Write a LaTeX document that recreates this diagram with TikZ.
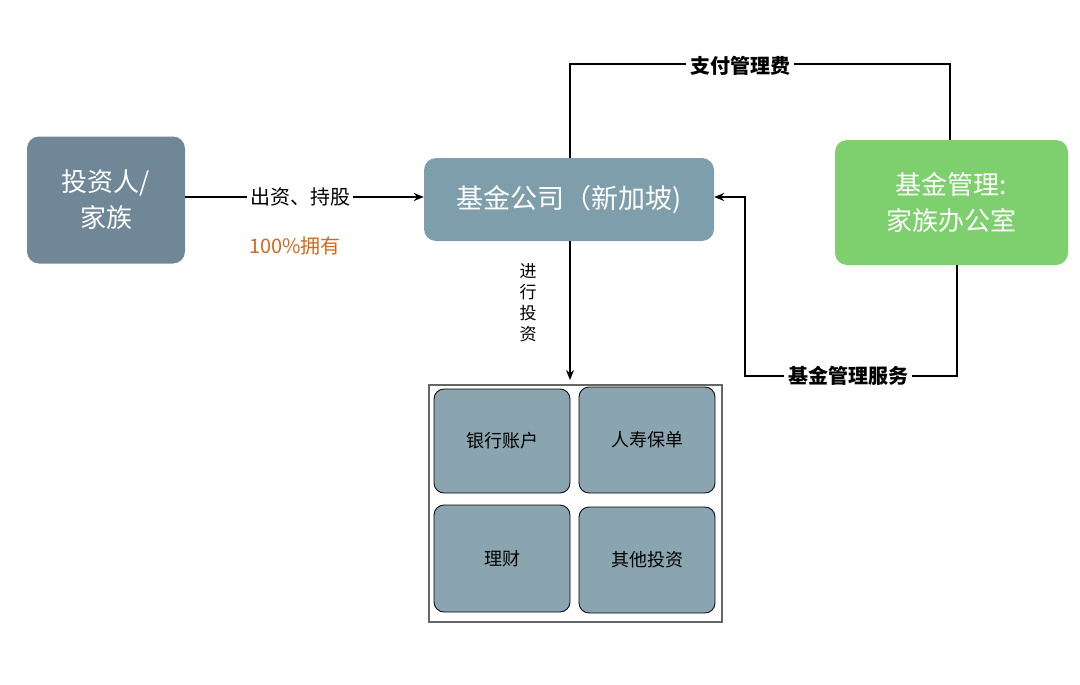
\documentclass[tikz,border=0pt]{standalone}
\usepackage{fontspec}
\setmainfont{Noto Sans CJK SC}
\usetikzlibrary{arrows.meta}
\begin{document}
\begin{tikzpicture}[x=1pt,y=-1pt,
  bigbox/.style={draw=none,rounded corners=12pt,text=white,align=center,font=\fontsize{26}{36}\selectfont},
  inner/.style={draw=black,line width=0.8pt,fill=innerc,rounded corners=10pt,font=\fontsize{18}{22}\selectfont},
  conn/.style={line width=2pt,black},
  lbl/.style={fill=white,inner sep=4pt,font=\bfseries\fontsize{20}{24}\selectfont}]
\definecolor{invc}{HTML}{6F8796}
\definecolor{fundc}{HTML}{7F9EAB}
\definecolor{foc}{HTML}{7ECF6E}
\definecolor{innerc}{HTML}{8AA5B0}
\definecolor{orangec}{HTML}{D2691E}
\useasboundingbox (0,0) rectangle (1080,685);
\node[bigbox,fill=invc,minimum width=158pt,minimum height=127pt] (inv) at (106,200) {投资人/\\家族};
\node[bigbox,fill=fundc,minimum width=290pt,minimum height=83pt,font=\fontsize{27}{32}\selectfont] (fund) at (569,199.5) {基金公司（新加坡)};
\node[bigbox,fill=foc,minimum width=233pt,minimum height=125pt] (fo) at (951.5,202.5) {基金管理:\\家族办公室};
\node[fill=white,inner sep=3pt,font=\fontsize{20}{24}\selectfont] (l1) at (300,197) {出资、持股};
\node[text=orangec,font=\fontsize{20}{24}\selectfont] (l2) at (295,246) {100\%拥有};
\draw[conn] (inv.east |- 0,197) -- (l1.west);
\draw[conn,-{Stealth[length=10pt,width=8pt]}] (l1.east) -- (fund.west |- 0,197);
\coordinate (t1) at (570,64);
\coordinate (t2) at (950,64);
\node[lbl] (l3) at (740,66) {支付管理费};
\draw[conn] (570,158) -- (t1) -- (l3.west |- t1);
\draw[conn] (l3.east |- t2) -- (t2) -- (950,140);
\coordinate (b1) at (957,376);
\coordinate (b2) at (745,376);
\coordinate (b3) at (745,197);
\node[lbl] (l4) at (848,376) {基金管理服务};
\draw[conn] (957,265) -- (b1) -- (l4.east);
\draw[conn,-{Stealth[length=10pt,width=8pt]}] (l4.west) -- (b2) -- (b3) -- (fund.east |- b3);
\node[draw=gray!80!black,line width=2pt,minimum width=293pt,minimum height=237pt] (cont) at (575.5,503.5) {};
\draw[conn,-{Stealth[length=10pt,width=8pt]}] (570,241) -- (570,380);
\node[align=center,font=\fontsize{17}{21}\selectfont] (l5) at (528,303) {进\\行\\投\\资};
\node[inner,minimum width=136pt,minimum height=104pt] (a) at (502,441) {银行账户};
\node[inner,minimum width=136pt,minimum height=106pt] (b) at (647,440) {人寿保单};
\node[inner,minimum width=136pt,minimum height=107pt] (c) at (502,558.5) {理财};
\node[inner,minimum width=136pt,minimum height=106pt] (d) at (647,560) {其他投资};
\end{tikzpicture}
\end{document}
